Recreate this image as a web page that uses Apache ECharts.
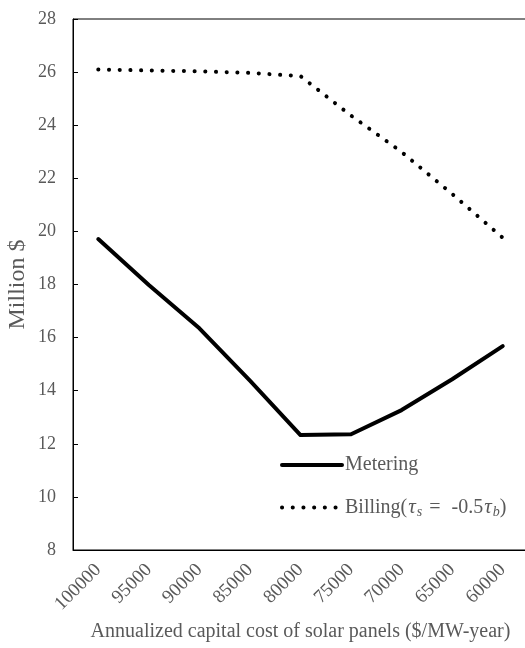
<!DOCTYPE html>
<html>
<head>
<meta charset="utf-8">
<script src="https://cdn.jsdelivr.net/npm/echarts@6/dist/echarts.min.js"></script>
<style>
html,body{margin:0;padding:0;background:#fff;}
#chart{width:525px;height:648px;}
</style>
</head>
<body>
<div id="chart"></div>
<script>
var categories = ['100000','95000','90000','85000','80000','75000','70000','65000','60000'];
var metering = [19.71, 17.98, 16.35, 14.38, 12.33, 12.36, 13.27, 14.43, 15.68];
var billing = [26.1, 26.06, 26.03, 25.97, 25.85, 24.36, 22.99, 21.41, 19.76];
var yTicks = {min: 8, max: 28, interval: 2};
var seriesNames = ['Metering', 'Billing'];

var serif = '"Liberation Serif", "Times New Roman", serif';
var grey = '#595959';

var chart = echarts.init(document.getElementById('chart'), null, {renderer: 'canvas'});
chart.setOption({
  animation: false,
  backgroundColor: '#fff',
  grid: {left: 73, top: 19, width: 455, height: 531, show: true, borderColor: '#000', borderWidth: 1,
         containLabel: false, outerBoundsMode: 'none'},
  xAxis: {
    type: 'category',
    data: categories,
    boundaryGap: true,
    axisLine: {lineStyle: {color: '#000', width: 1}},
    axisTick: {inside: true, length: 5, lineStyle: {color: '#000'}},
    axisLabel: {rotate: 45, margin: 17, color: grey, fontSize: 19, fontFamily: serif},
    name: 'Annualized capital cost of solar panels ($/MW-year)',
    nameLocation: 'middle',
    nameGap: 72,
    nameMoveOverlap: false,
    nameTextStyle: {color: grey, fontSize: 20, fontFamily: serif}
  },
  yAxis: {
    type: 'value',
    min: yTicks.min, max: yTicks.max, interval: yTicks.interval,
    splitLine: {show: false},
    axisLine: {show: true, lineStyle: {color: '#000', width: 1}},
    axisTick: {show: true, inside: true, length: 5, lineStyle: {color: '#000'}},
    axisLabel: {margin: 17, color: grey, fontSize: 18, fontFamily: serif},
    name: 'Million $',
    nameLocation: 'middle',
    nameRotate: 90,
    nameGap: 43,
    nameMoveOverlap: false,
    nameTextStyle: {color: grey, fontSize: 24, fontFamily: serif}
  },
  legend: {
    orient: 'vertical',
    left: 275,
    top: 450,
    itemWidth: 60,
    itemHeight: 14,
    itemGap: 22,
    data: [
      {name: seriesNames[0], itemStyle: {opacity: 0}, lineStyle: {width: 4, color: '#000', type: 'solid', opacity: 1}},
      {name: seriesNames[1], itemStyle: {opacity: 0}, lineStyle: {width: 4, color: '#000', type: [0.1, 10.6], cap: 'round', opacity: 1}}
    ],
    formatter: function (name) {
      if (name === 'Billing') {
        return '{n|Billing(}{i|τ}{sb|s}{eq|=}{n|-0.5}{i|τ}{sb|b}{n|)}';
      }
      return '{n|' + name + '}';
    },
    textStyle: {
      color: grey, fontSize: 20, fontFamily: serif, padding: [0, 0, 0, -2],
      rich: {
        n: {color: grey, fontSize: 20, fontFamily: serif, lineHeight: 24, verticalAlign: 'middle'},
        eq: {color: grey, fontSize: 20, fontFamily: serif, lineHeight: 24, verticalAlign: 'middle', padding: [0, 11, 0, 7]},
        i: {color: grey, fontSize: 21, fontFamily: serif, fontStyle: 'italic', lineHeight: 24, verticalAlign: 'middle', padding: [0, 1, 0, 1]},
        sb: {color: grey, fontSize: 14, fontFamily: serif, fontStyle: 'italic', lineHeight: 14, verticalAlign: 'bottom'}
      }
    }
  },
  series: [
    {
      name: seriesNames[0], type: 'line', data: metering, symbol: 'none',
      lineStyle: {color: '#000', width: 4, cap: 'round', join: 'round'},
      itemStyle: {color: '#000'}
    },
    {
      name: seriesNames[1], type: 'line', data: billing, symbol: 'none',
      lineStyle: {color: '#000', width: 4, type: [0.1, 10.6], cap: 'round'},
      itemStyle: {color: '#000'}
    }
  ]
});
</script>
</body>
</html>
